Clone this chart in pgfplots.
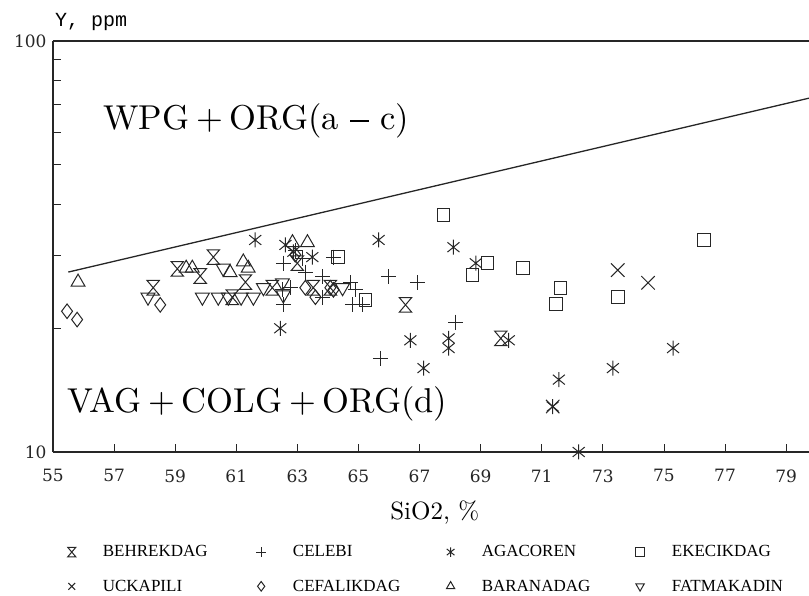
\documentclass[border=0pt]{standalone}
\usepackage{fontspec}
\usepackage{pgfplots}
\pgfplotsset{compat=1.18}
\newfontfamily\legfont{Liberation Serif}
\newfontfamily\tickfont{DejaVu Serif}
\newfontfamily\ylabfont{Liberation Mono}
\newfontfamily\bigfont{lmroman10-regular.otf}
\newcommand\bplus{\hspace{.2em}+\hspace{.2em}}
\newcommand\bminus{\hspace{.33em}\raisebox{.245em}{\rule{.55em}{.035em}}\hspace{.33em}}

\pgfdeclareplotmark{hourglass}{%
  \pgfpathmoveto{\pgfqpoint{-.85\pgfplotmarksize}{\pgfplotmarksize}}%
  \pgfpathlineto{\pgfqpoint{.85\pgfplotmarksize}{\pgfplotmarksize}}%
  \pgfpathlineto{\pgfqpoint{-.85\pgfplotmarksize}{-\pgfplotmarksize}}%
  \pgfpathlineto{\pgfqpoint{.85\pgfplotmarksize}{-\pgfplotmarksize}}%
  \pgfpathclose
  \pgfusepathqstroke}
\pgfdeclareplotmark{star6}{%
  \pgfpathmoveto{\pgfqpoint{0pt}{\pgfplotmarksize}}%
  \pgfpathlineto{\pgfqpoint{0pt}{-\pgfplotmarksize}}%
  \pgfpathmoveto{\pgfqpoint{-.8\pgfplotmarksize}{-.65\pgfplotmarksize}}%
  \pgfpathlineto{\pgfqpoint{.8\pgfplotmarksize}{.65\pgfplotmarksize}}%
  \pgfpathmoveto{\pgfqpoint{-.8\pgfplotmarksize}{.65\pgfplotmarksize}}%
  \pgfpathlineto{\pgfqpoint{.8\pgfplotmarksize}{-.65\pgfplotmarksize}}%
  \pgfusepathqstroke}

\begin{document}
\begin{tikzpicture}
\begin{axis}[
  scale only axis, width=756pt, height=411pt,
  xmin=55, xmax=79.75, ymode=log, ymin=10, ymax=100,
  axis x line=box, axis y line=left,
  axis line style={-, line width=1.2pt, black!85},
  xtick={55,57,...,79}, xtick pos=left, ytick pos=left,
  ytick={10,100}, yticklabels={10,100},
  minor ytick={20,30,40,50,60,70,80,90},
  tick align=inside, major tick length=8pt, minor tick length=8pt,
  tick style={line width=0.8pt, black!85},
  /pgf/number format/assume math mode=true,
  every tick label/.append style={font=\tickfont\fontsize{17}{17}\selectfont, text=black!85},
  xticklabel style={yshift=-14pt},
  yticklabel style={xshift=-3pt},
  clip=false,
  every axis plot/.append style={line width=1pt, black!85},
  legend columns=4,
  legend style={draw=none, fill=none, inner sep=0pt,
    at={(axis description cs:0,0)}, anchor=north west,
    xshift=14.5pt, yshift=-93.5pt,
    font=\legfont\fontsize{17}{17}\selectfont,
    nodes={inner sep=0pt},
    row sep=21.5pt,
    /tikz/every odd column/.append style={column sep=27pt},
  },
  legend cell align=left,
  legend image code/.code={\draw[#1, mark size=4.8pt] plot coordinates {(0pt,0pt)};},
]
% BEHREKDAG
\addplot[only marks, mark=hourglass, mark size=7.3pt] coordinates {
(58.28,25.1) (59.07,27.9) (59.82,26.8) (60.25,29.8) (61.30,25.9) (60.87,23.8)
(62.18,25.1) (63.00,28.8) (63.52,25.1) (64.08,25.1) (66.54,22.8) (69.66,18.9)
};
\addlegendentry{\makebox[153.5pt][l]{BEHREKDAG}}
% CELEBI
\addplot[only marks, mark=+, mark size=7.5pt] coordinates {
(62.51,24.8) (62.54,22.8) (62.54,28.8) (63.16,29.6) (63.26,27.4) (62.93,31.0)
(62.77,25.1) (63.82,26.7) (64.18,29.8) (63.82,23.8) (64.74,25.8) (64.90,24.8)
(64.80,22.8) (65.13,22.8) (65.98,26.7) (66.93,25.8) (65.72,16.9) (68.18,20.7)
};
\addlegendentry{\makebox[153.5pt][l]{CELEBI}}
% AGACOREN
\addplot[only marks, mark=star6, mark size=7.5pt] coordinates {
(61.62,32.8) (62.61,31.9) (62.87,30.7) (63.49,29.8) (65.66,32.8) (62.44,20.0)
(68.11,31.5) (68.84,28.8) (66.70,18.7) (67.95,18.9) (67.95,17.9) (69.92,18.7)
(75.30,17.9) (67.13,16.0) (73.33,16.0) (71.56,15.0) (71.36,12.9) (72.21,10.0)
};
\addlegendentry{\makebox[153.5pt][l]{AGACOREN}}
% EKECIKDAG
\addplot[only marks, mark=square, mark size=6.3pt] coordinates {
(64.34,29.8) (65.23,23.4) (67.79,37.7) (69.23,28.8) (68.74,27.0) (70.38,28.0)
(71.62,25.1) (71.46,22.9) (73.49,23.8) (76.31,32.8)
};
\addlegendentry{EKECIKDAG}
% UCKAPILI
\addplot[only marks, mark=x, mark size=9.5pt] coordinates {
(73.49,27.7) (74.48,25.8) (71.36,12.9)
};
\addlegendentry{\makebox[153.5pt][l]{UCKAPILI}}
% CEFALIKDAG
\addplot[only marks, mark=diamond, mark size=7.3pt] coordinates {
(55.46,22.0) (55.79,21.0) (58.51,22.8) (62.93,30.2) (63.26,25.1) (63.59,23.8)
(64.08,25.1) (64.18,24.8)
};
\addlegendentry{\makebox[153.5pt][l]{CEFALIKDAG}}
% BARANADAG
\addplot[only marks, mark=triangle, mark size=8pt] coordinates {
(55.82,25.9) (59.36,28.0) (59.56,28.0) (60.80,27.3) (61.23,29.0) (61.39,28.0)
(62.84,32.3) (63.33,32.3)
};
\addlegendentry{\makebox[153.5pt][l]{BARANADAG}}
% FATMAKADIN
\addplot[only marks, mark=triangle, mark options={rotate=180}, mark size=8pt] coordinates {
(58.11,23.8) (59.89,23.8) (60.41,23.8) (60.74,23.8) (61.16,23.8) (61.56,23.8)
(60.57,28.0) (61.89,25.1) (62.51,25.8) (62.54,24.1) (64.48,25.1)
};
\addlegendentry{FATMAKADIN}
% boundary line
\addplot[no marks, line width=1.3pt, black!85, forget plot] coordinates {(55.5,27.4) (79.75,72.6)};

\node[anchor=base west, inner sep=0pt, font=\bigfont\fontsize{34.5}{40}\selectfont] at (rel axis cs:0.0661,0.7835) {WPG\bplus ORG(a\bminus c)};
\node[anchor=base west, inner sep=0pt, font=\bigfont\fontsize{34.5}{40}\selectfont] at (rel axis cs:0.0185,0.0949) {VAG\bplus COLG\bplus ORG(d)};
\node[anchor=base west, inner sep=0pt, xshift=2pt, yshift=14pt, font=\ylabfont\fontsize{20}{20}\selectfont] at (rel axis cs:0,1) {Y, ppm};
\node[anchor=base, inner sep=0pt, yshift=-68pt, font=\bigfont\fontsize{25}{25}\selectfont] at (rel axis cs:0.505,0) {SiO2, \%};
\coordinate (SW) at (rel axis cs:0,0);
\coordinate (NE) at (rel axis cs:1,1);
\end{axis}
\pgfresetboundingbox
\path ([xshift=-53pt,yshift=-144pt]SW) rectangle ([yshift=41pt]NE);
\end{tikzpicture}
\end{document}
